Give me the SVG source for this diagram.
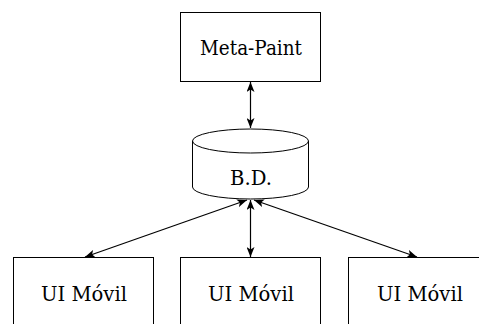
<svg xmlns="http://www.w3.org/2000/svg" width="479" height="324" viewBox="0 0 479 324">
<defs>
<style>
.box{fill:#fff;stroke:#000;stroke-width:1}
.lbl{font-family:'DejaVu Serif',serif;font-size:20px;fill:#000;text-anchor:middle}
.con{fill:none;stroke:#000;stroke-width:1.2}
</style>
<marker id="ah" viewBox="0 0 10 8" refX="10" refY="4" markerWidth="10" markerHeight="8" markerUnits="userSpaceOnUse" orient="auto-start-reverse">
<path d="M0,0 L10,4 L0,8 L2.5,4 Z" fill="#000"/>
</marker>
</defs>
<rect width="479" height="324" fill="#fff"/>
<g id="connectors">
<line class="con" x1="250.5" y1="82" x2="250.5" y2="128" marker-start="url(#ah)" marker-end="url(#ah)"/>
<line class="con" x1="247" y1="200" x2="85" y2="257" marker-start="url(#ah)" marker-end="url(#ah)"/>
<line class="con" x1="250.5" y1="200" x2="250.5" y2="257" marker-start="url(#ah)" marker-end="url(#ah)"/>
<line class="con" x1="254" y1="200" x2="417" y2="257" marker-start="url(#ah)" marker-end="url(#ah)"/>
</g>
<g id="meta-paint">
<rect class="box" x="180.5" y="12.5" width="140" height="69"/>
<text class="lbl" x="251" y="55" textLength="102" lengthAdjust="spacingAndGlyphs">Meta-Paint</text>
</g>
<g id="bd">
<path class="box" d="M192.5,141 A58,12 0 0 1 308.5,141 L308.5,187 A58,12 0 0 1 192.5,187 Z"/>
<path class="box" style="fill:none" d="M192.5,141 A58,12 0 0 0 308.5,141"/>
<text class="lbl" x="251" y="185" textLength="42" lengthAdjust="spacingAndGlyphs">B.D.</text>
</g>
<g id="ui1">
<rect class="box" x="13.5" y="257.5" width="140" height="80"/>
<text class="lbl" x="84" y="301" textLength="86" lengthAdjust="spacingAndGlyphs">UI Móvil</text>
</g>
<g id="ui2">
<rect class="box" x="180.5" y="257.5" width="140" height="80"/>
<text class="lbl" x="251" y="301" textLength="86" lengthAdjust="spacingAndGlyphs">UI Móvil</text>
</g>
<g id="ui3">
<rect class="box" x="348.5" y="257.5" width="140" height="80"/>
<text class="lbl" x="420" y="301" textLength="86" lengthAdjust="spacingAndGlyphs">UI Móvil</text>
</g>
</svg>
